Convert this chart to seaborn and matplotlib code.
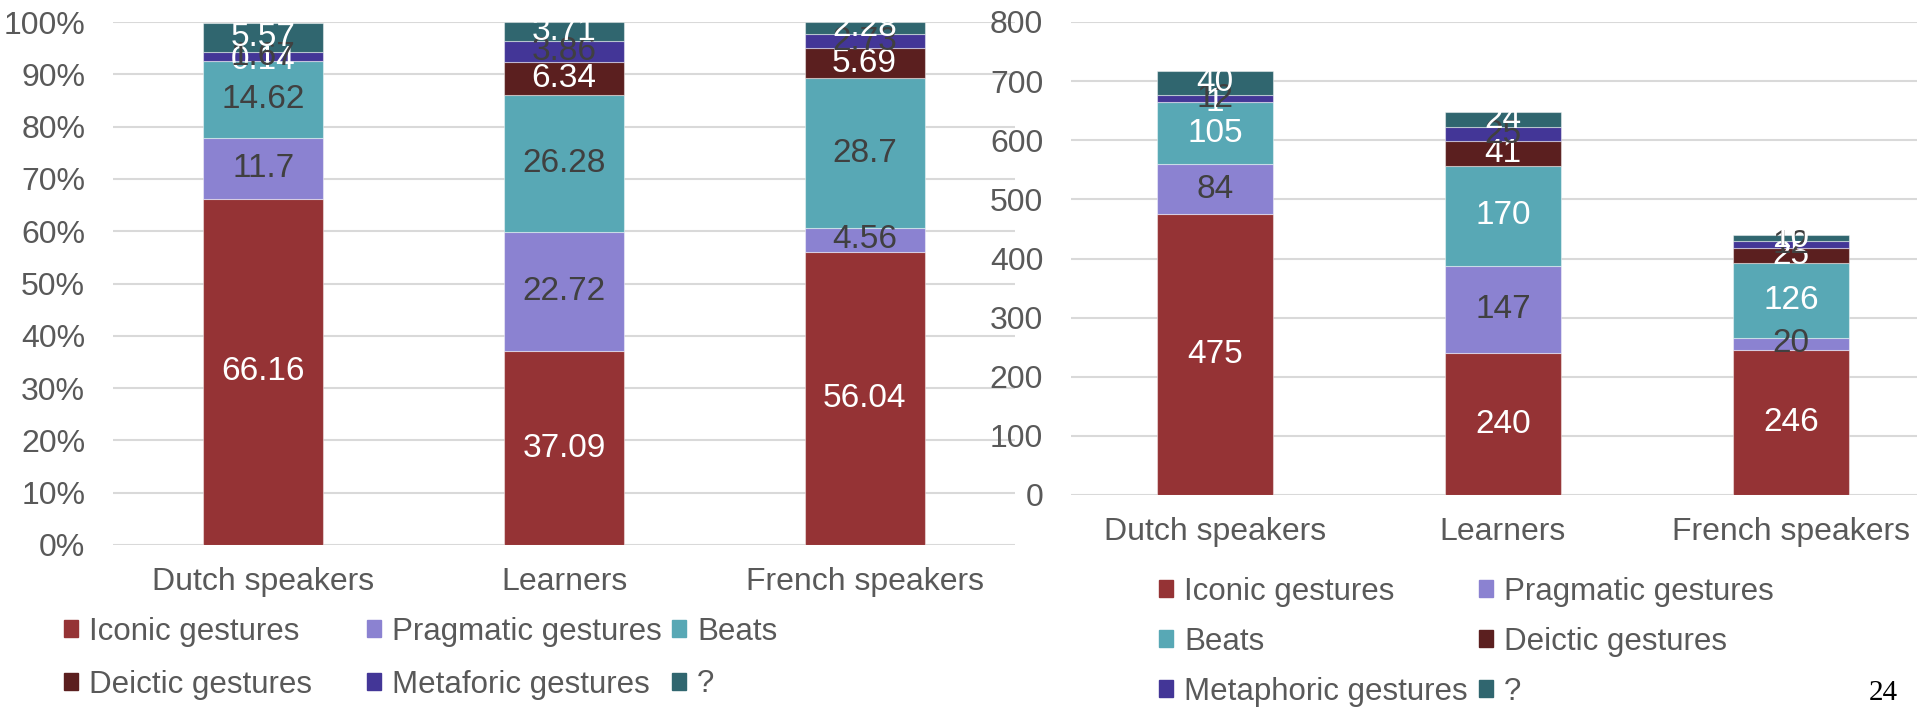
import matplotlib.pyplot as plt
import matplotlib.patches as mpatches
import numpy as np
import seaborn as sns

# groups on the x axis
groups = ["Dutch speakers", "Learners", "French speakers"]

# gesture types (left chart uses "Metaforic", right chart "Metaphoric")
types_left = ["Iconic gestures", "Pragmatic gestures", "Beats",
              "Deictic gestures", "Metaforic gestures", "?"]
types_right = ["Iconic gestures", "Pragmatic gestures", "Beats",
               "Deictic gestures", "Metaphoric gestures", "?"]

# percentages (left chart)
iconic_pct = [66.16, 37.09, 56.04]
pragmatic_pct = [11.7, 22.72, 4.56]
beats_pct = [14.62, 26.28, 28.7]
deictic_pct = [0.14, 6.34, 5.69]
metaphoric_pct = [1.67, 3.86, 2.73]
unknown_pct = [5.57, 3.71, 2.28]

# counts (right chart)
iconic_n = [475, 240, 246]
pragmatic_n = [84, 147, 20]
beats_n = [105, 170, 126]
deictic_n = [1, 41, 25]
metaphoric_n = [12, 25, 12]
unknown_n = [40, 24, 10]

colors = ["#953335", "#8B82D1", "#58A8B5", "#5B1F1F", "#433697", "#30666F"]
DARK = "#404040"
GREY = "#595959"
labels_left = ["white", DARK, DARK, "white", DARK, "white"]
labels_right = ["white", DARK, "white", "white", DARK, "white"]

sns.set_style("white")
plt.rcParams["font.family"] = ["Liberation Sans", "DejaVu Sans"]

W, H = 1917, 710
fig = plt.figure(figsize=(W / 100, H / 100), dpi=100)
ax_pct = fig.add_axes([113 / W, 1 - 545 / H, 902 / W, 523 / H])
ax_cnt = fig.add_axes([1071 / W, 1 - 495 / H, 864 / W, 473 / H])


def stacked(ax, series, label_colors):
    bottom = np.zeros(len(groups))
    for vals, col, lc in zip(series, colors, label_colors):
        sns.barplot(x=groups, y=vals, bottom=bottom, color=col, width=0.4,
                    saturation=1, edgecolor=(1, 1, 1, 0.45), linewidth=0.8,
                    errorbar=None, ax=ax)
        ax.bar_label(ax.containers[-1], labels=[f"{v:g}" for v in vals],
                     label_type="center", color=lc, fontsize=24)
        bottom = bottom + np.array(vals)


def style(ax, top, step, pct=False):
    ax.set_ylim(0, top)
    ticks = np.arange(0, top + 1, step)
    ax.set_yticks(ticks)
    if pct:
        ax.set_yticklabels([f"{int(t)}%" for t in ticks])
    ax.set_xlabel("")
    ax.set_ylabel("")
    ax.yaxis.grid(True, color="#D9D9D9", linewidth=1.5)
    ax.set_axisbelow(True)
    sns.despine(ax=ax, left=True, bottom=True)
    ax.tick_params(axis="y", length=0, pad=20, labelsize=23, labelcolor=GREY)
    ax.tick_params(axis="x", length=0, pad=16, labelsize=23, labelcolor=GREY)


stacked(ax_pct, [iconic_pct, pragmatic_pct, beats_pct, deictic_pct,
                 metaphoric_pct, unknown_pct], labels_left)
stacked(ax_cnt, [iconic_n, pragmatic_n, beats_n, deictic_n,
                 metaphoric_n, unknown_n], labels_right)
style(ax_pct, 100, 10, pct=True)
style(ax_cnt, 800, 100)


def legend_column(names, cols, x, ytop, spacing):
    handles = [mpatches.Patch(color=colors[i], label=names[i]) for i in cols]
    leg = fig.legend(handles=handles, loc="upper left",
                     bbox_to_anchor=(x / W, 1 - ytop / H), frameon=False,
                     fontsize=22.5, handlelength=0.45, handleheight=0.45,
                     handletextpad=0.35, labelspacing=spacing, borderpad=0,
                     borderaxespad=0, labelcolor=GREY)
    return leg


# left legend: 3 columns x 2 rows
for cols, x in zip([[0, 3], [1, 4], [2, 5]], [64, 367, 672]):
    legend_column(types_left, cols, x, 630 - 13, 0.72)

# right legend: 2 columns x 3 rows
for cols, x in zip([[0, 2, 4], [1, 3, 5]], [1159, 1479]):
    legend_column(types_right, cols, x, 593 - 16, 0.64)

fig.text(1883 / W, 1 - 693 / H, "24", family="Liberation Serif",
         fontsize=21, ha="center", va="center", color="black")

fig.savefig("out.png", dpi=100)
